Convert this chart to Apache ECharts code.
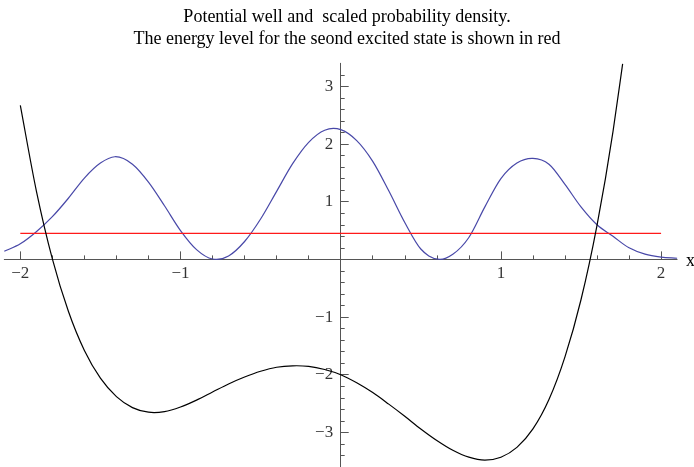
<!DOCTYPE html>
<html>
<head>
<meta charset="utf-8">
<script src="https://cdn.jsdelivr.net/npm/echarts@6/dist/echarts.min.js"></script>
<style>
  html, body { margin: 0; padding: 0; background: #fff; }
  #chart { width: 694px; height: 467px; }
</style>
</head>
<body>
<div id="chart"></div>
<script>
// Quartic potential well V(x)
const potX = [-2.0, -1.9, -1.8, -1.7, -1.6, -1.5, -1.4, -1.3, -1.2, -1.1, -1.0, -0.9, -0.8, -0.7, -0.6, -0.5, -0.4, -0.3, -0.2, -0.1,
              0.0, 0.1, 0.2, 0.3, 0.4, 0.5, 0.6, 0.7, 0.8, 0.9, 1.0, 1.1, 1.2, 1.3, 1.4, 1.5, 1.6, 1.7, 1.76];
const potY = [2.67, 1.19, 0.01, -0.90, -1.58, -2.06, -2.38, -2.57, -2.65, -2.64, -2.56, -2.44, -2.30, -2.16, -2.04, -1.94, -1.87, -1.845, -1.855, -1.91,
              -2.00, -2.14, -2.31, -2.51, -2.72, -2.94, -3.14, -3.31, -3.43, -3.48, -3.43, -3.26, -2.94, -2.43, -1.69, -0.70, 0.59, 2.22, 3.39];

// Scaled probability density of the second excited state
const densX = [-2.1, -2.0, -1.9, -1.8, -1.7, -1.6, -1.5, -1.41, -1.3, -1.2, -1.1, -1.0, -0.9, -0.8, -0.774, -0.7, -0.6, -0.5, -0.4, -0.3, -0.2, -0.1, -0.046,
               0.0, 0.1, 0.2, 0.3, 0.4, 0.5, 0.55, 0.62, 0.7, 0.8, 0.9, 1.0, 1.1, 1.2, 1.3, 1.4, 1.5, 1.6, 1.7, 1.8, 1.9, 2.0, 2.1];
const densY = [0.14, 0.27, 0.48, 0.74, 1.06, 1.41, 1.67, 1.78, 1.65, 1.34, 0.93, 0.50, 0.17, 0.007, 0.0, 0.06, 0.31, 0.70, 1.18, 1.66, 2.03, 2.24, 2.27,
               2.25, 2.06, 1.70, 1.19, 0.64, 0.18, 0.06, 0.0, 0.09, 0.38, 0.91, 1.40, 1.67, 1.75, 1.65, 1.30, 0.91, 0.60, 0.40, 0.20, 0.09, 0.04, 0.02];

// Energy level of the second excited state
const energy = 0.45;
const energyX = [-2, 2];

// Axis ticks
const xMajor = [-2, -1, 1, 2];
const xMinor = [-1.8, -1.6, -1.4, -1.2, -0.8, -0.6, -0.4, -0.2, 0.2, 0.4, 0.6, 0.8, 1.2, 1.4, 1.6, 1.8];
const yMajor = [-3, -2, -1, 1, 2, 3];
const yMinor = [-3.4, -3.2, -2.8, -2.6, -2.4, -2.2, -1.8, -1.6, -1.4, -1.2, -0.8, -0.6, -0.4, -0.2,
                0.2, 0.4, 0.6, 0.8, 1.2, 1.4, 1.6, 1.8, 2.2, 2.4, 2.6, 2.8, 3.2];

const titleLines = ['Potential well and  scaled probability density.',
                    'The energy level for the seond excited state is shown in red'];

const SERIF = "'Liberation Serif', 'Times New Roman', serif";
const AXIS_COLOR = '#555555';
const RED = '#ff1a1a';
const BLUE = '#4848a8';
const TICK_FONT = 17;
const minusFmt = v => String(v).replace('-', '\u2212');

const chart = echarts.init(document.getElementById('chart'), null, { renderer: 'canvas' });

function xAxisDef(ticks, len, line) {
  return {
    type: 'value', min: -2.1, max: 2.1, position: 'bottom',
    axisLine: { show: line, onZero: true, onZeroAxisIndex: 0, lineStyle: { color: AXIS_COLOR, width: 1 } },
    axisTick: { show: true, inside: true, length: len, customValues: ticks, lineStyle: { color: AXIS_COLOR, width: 1 } },
    axisLabel: { show: false },
    splitLine: { show: false }
  };
}
function yAxisDef(ticks, len, line) {
  return {
    type: 'value', min: -3.6, max: 3.4, position: 'left',
    axisLine: { show: line, onZero: true, onZeroAxisIndex: 0, lineStyle: { color: AXIS_COLOR, width: 1 } },
    axisTick: { show: true, inside: true, length: len, customValues: ticks, lineStyle: { color: AXIS_COLOR, width: 1 } },
    axisLabel: { show: false },
    splitLine: { show: false }
  };
}

// Smooth curve y(x): cubic Hermite segments between the sampled points,
// positioned through the grid's coordinate system.
function curveSeries(xs, ys, color, width, z) {
  return {
    type: 'custom', xAxisIndex: 0, yAxisIndex: 0, z: z, silent: true,
    data: [[xs[0], ys[0]]],
    renderItem: function (params, api) {
      const p = xs.map((x, i) => api.coord([x, ys[i]]));
      const n = p.length;
      const sec = [];
      for (let i = 0; i < n - 1; i++) sec.push((p[i + 1][1] - p[i][1]) / (p[i + 1][0] - p[i][0]));
      const m = [];
      for (let i = 0; i < n; i++) {
        if (i === 0) m.push(sec[0]);
        else if (i === n - 1) m.push(sec[n - 2]);
        else {
          const h0 = p[i][0] - p[i - 1][0], h1 = p[i + 1][0] - p[i][0];
          m.push((sec[i - 1] * h1 + sec[i] * h0) / (h0 + h1));
        }
      }
      let d = 'M' + p[0][0] + ' ' + p[0][1];
      for (let i = 0; i < n - 1; i++) {
        const h = (p[i + 1][0] - p[i][0]) / 3;
        d += ' C' + (p[i][0] + h) + ' ' + (p[i][1] + m[i] * h) + ' ' +
             (p[i + 1][0] - h) + ' ' + (p[i + 1][1] - m[i + 1] * h) + ' ' +
             p[i + 1][0] + ' ' + p[i + 1][1];
      }
      return {
        type: 'path',
        shape: { pathData: d },
        style: { fill: null, stroke: color, lineWidth: width }
      };
    }
  };
}

// Tick labels sit next to the axes that cross at the origin
function tickLabels(points, position, distance) {
  return {
    type: 'scatter', xAxisIndex: 0, yAxisIndex: 0, silent: true, clip: false, z: 1,
    symbolSize: 1, itemStyle: { color: 'rgba(0,0,0,0)' },
    data: points,
    label: {
      show: true, position: position, distance: distance,
      fontFamily: SERIF, fontSize: TICK_FONT, color: '#000',
      formatter: p => minusFmt(position === 'bottom' ? p.value[0] : p.value[1])
    }
  };
}

chart.setOption({
  animation: false,
  backgroundColor: '#fff',
  title: {
    text: titleLines.join('\n'),
    left: 'center', top: 1,
    textStyle: { fontFamily: SERIF, fontSize: 18, fontWeight: 'normal', color: '#000', lineHeight: 22 }
  },
  grid: { left: 4.3, right: 16.9, top: 63.3, bottom: 0, containLabel: false, outerBoundsMode: 'none' },
  xAxis: [xAxisDef(xMajor, 8, true), xAxisDef(xMinor, 4, false)],
  yAxis: [yAxisDef(yMajor, 8, true), yAxisDef(yMinor, 4, false)],
  graphic: [{
    type: 'text', left: 686, top: 252,
    style: { text: 'x', fontFamily: SERIF, fontSize: 18, fill: '#000' }
  }],
  series: [
    curveSeries(densX, densY, BLUE, 1.2, 3),
    {
      name: 'energy', type: 'line', xAxisIndex: 0, yAxisIndex: 0, z: 4,
      data: energyX.map(x => [x, energy]), showSymbol: false,
      color: RED, itemStyle: { color: RED },
      lineStyle: { color: RED, width: 1.3 }
    },
    curveSeries(potX, potY, '#000', 1.2, 5),
    tickLabels(xMajor.map(v => [v, 0]), 'bottom', 5),
    tickLabels(yMajor.map(v => [0, v]), 'left', 7)
  ]
});
</script>
</body>
</html>
